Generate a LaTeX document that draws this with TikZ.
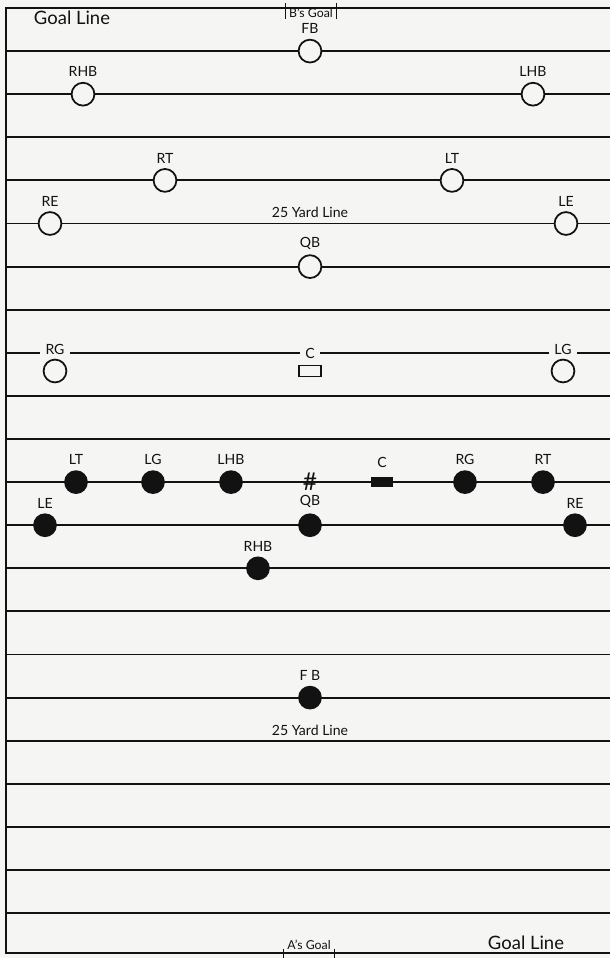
\documentclass[tikz,border=0pt]{standalone}
\usepackage{fontspec}
\setmainfont{Lato}
\usetikzlibrary{positioning}
\definecolor{fieldbg}{RGB}{245,245,243}
\definecolor{ink}{RGB}{18,18,18}

\begin{document}
\begin{tikzpicture}[x=0.02cm, y=-0.02cm,
    yardline/.style={ink, line width=1.1pt},
    openman/.style={circle, draw=ink, fill=fieldbg, line width=1pt,
        minimum size=13pt, inner sep=0pt},
    fullman/.style={circle, fill=ink, minimum size=13.5pt, inner sep=0pt},
    tag/.style={font=\fontsize{8}{9}\selectfont, ink, inner sep=0.6pt},
    linetag/.style={tag, fill=fieldbg, inner xsep=3pt},
    bigtag/.style={font=\fontsize{10.5}{11}\selectfont, ink}]

    % --- Terrain ---
    \fill[fieldbg] (0,0) rectangle (610,958);
    \useasboundingbox (0,0) rectangle (610,958);
    \foreach \k in {1,...,21} {
        \draw[yardline] (6,8+43.1*\k) -- (610,8+43.1*\k);
    }
    \draw[ink, line width=1.4pt] (610,8) -- (6,8) -- (6,953) -- (610,953);

    % Textes des lignes de but
    \node[bigtag] (goalTop) at (72,18) {Goal Line};
    \node[bigtag] (goalBot) at (526,943) {Goal Line};
    \node[tag, font=\fontsize{7}{7}\selectfont, inner xsep=2pt] (bGoal) at (311,13) {B's Goal};
    \draw[ink, line width=0.8pt] ([yshift=2pt]bGoal.north west) -- (bGoal.south west);
    \draw[ink, line width=0.8pt] ([yshift=2pt]bGoal.north east) -- (bGoal.south east);
    \node[tag, font=\fontsize{7}{7}\selectfont, inner xsep=2pt] (aGoal) at (309,945) {A's Goal};
    \draw[ink, line width=0.8pt] ([yshift=-2pt]aGoal.west) -- ++(0,14);
    \draw[ink, line width=0.8pt] ([yshift=-2pt]aGoal.east) -- ++(0,14);

    \node[tag, font=\fontsize{8}{9}\selectfont] (yardTop) at (310,212) {25 Yard Line};
    \node[tag, font=\fontsize{8}{9}\selectfont] (yardBot) at (310,730) {25 Yard Line};

    % --- Défense (cercles vides) ---
    \node[openman] (dFB)  at (310,51.1) {};
    \node[openman] (dRHB) at (83,94.2) {};
    \node[openman] (dLHB) at (533,94.2) {};
    \node[openman] (dRT)  at (165,180.4) {};
    \node[openman] (dLT)  at (452,180.4) {};
    \node[openman] (dRE)  at (50,223.5) {};
    \node[openman] (dLE)  at (566,223.5) {};
    \node[openman] (dQB)  at (310,266.6) {};
    \node[openman] (dRG)  at (55,371) {};
    \node[openman] (dLG)  at (563,371) {};
    \node[draw=ink, line width=0.8pt, minimum width=12.5pt, minimum height=6pt,
        inner sep=0pt] (dC) at (310,371) {};

    \node[tag, above=2pt of dFB]  {FB};
    \node[tag, above=2pt of dRHB] {RHB};
    \node[tag, above=2pt of dLHB] {LHB};
    \node[tag, above=2pt of dRT]  {RT};
    \node[tag, above=2pt of dLT]  {LT};
    \node[tag, above=2pt of dRE]  {RE};
    \node[tag, above=2pt of dLE]  {LE};
    \node[tag, above=2pt of dQB]  {QB};
    \node[linetag, above=1.5pt of dRG] {RG};
    \node[linetag, above=1.5pt of dLG] {LG};
    \node[linetag, above=3pt of dC]  {C};

    % --- Attaque (cercles pleins) ---
    \node[fullman] (oLT)  at (76,482.1) {};
    \node[fullman] (oLG)  at (153,482.1) {};
    \node[fullman] (oLHB) at (231,482.1) {};
    \node[font=\fontsize{14}{14}\selectfont, ink, inner sep=0pt] (ball) at (310,482.1) {\#};
    \node[fill=ink, minimum width=12.5pt, minimum height=6pt, inner sep=0pt] (oC) at (382,482.1) {};
    \node[fullman] (oRG)  at (465,482.1) {};
    \node[fullman] (oRT)  at (543,482.1) {};
    \node[fullman] (oLE)  at (45,525.2) {};
    \node[fullman] (oQB)  at (310,525.2) {};
    \node[fullman] (oRE)  at (575,525.2) {};
    \node[fullman] (oRHB) at (258,568.3) {};
    \node[fullman] (oFB)  at (310,697.6) {};

    \node[tag, above=2pt of oLT]  {LT};
    \node[tag, above=2pt of oLG]  {LG};
    \node[tag, above=2pt of oLHB] {LHB};
    \node[tag, above=4pt of oC]   {C};
    \node[tag, above=2pt of oRG]  {RG};
    \node[tag, above=2pt of oRT]  {RT};
    \node[tag, above=2pt of oLE]  {LE};
    \node[tag, above=2pt of oQB]  {QB};
    \node[tag, above=2pt of oRE]  {RE};
    \node[tag, above=2pt of oRHB] {RHB};
    \node[tag, above=2pt of oFB]  {F B};
\end{tikzpicture}
\end{document}
